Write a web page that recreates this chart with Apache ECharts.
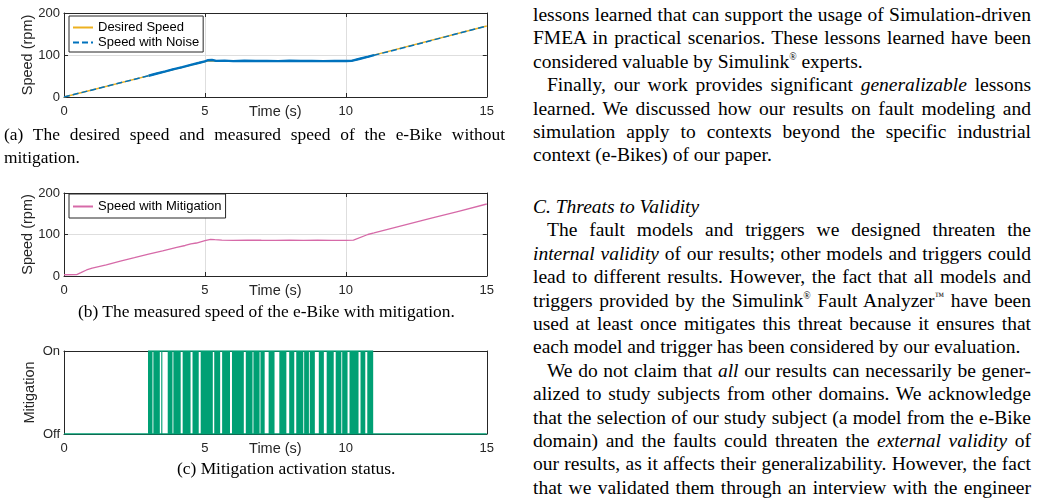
<!DOCTYPE html>
<html>
<head>
<meta charset="utf-8">
<script src="https://cdn.jsdelivr.net/npm/echarts@6/dist/echarts.min.js"></script>
<style>
html, body { margin: 0; padding: 0; background: #fff; width: 1043px; height: 503px; overflow: hidden; }
#main { position: absolute; left: 0; top: 0; width: 497px; height: 503px; }
.cap { position: absolute; font-family: 'Liberation Serif', 'Times New Roman', serif; font-size: 17.4px; line-height: 23px; height: 23px; color: #000; white-space: nowrap; }
.col { position: absolute; left: 533px; width: 498px; font-family: 'Liberation Serif', 'Times New Roman', serif; font-size: 19.5px; line-height: 23.4px; color: #000; }
.col div { height: 23.4px; text-align: justify; text-align-last: justify; }
.col div.last { text-align-last: left; }
.col div.ind { text-indent: 14px; }
sup { font-size: 0.5em; vertical-align: 0.8em; line-height: 0; }
</style>
</head>
<body>
<div id="main"></div>

<div class="cap" style="left:4px;top:123px;width:501px;text-align:justify;text-align-last:justify;">(a) The desired speed and measured speed of the e-Bike without</div>
<div class="cap" style="left:4px;top:146px;">mitigation.</div>
<div class="cap" style="left:78px;top:300px;">(b) The measured speed of the e-Bike with mitigation.</div>
<div class="cap" style="left:177px;top:457px;">(c) Mitigation activation status.</div>

<div class="col" style="top:3px;">
  <div>lessons learned that can support the usage of Simulation-driven</div>
  <div>FMEA in practical scenarios. These lessons learned have been</div>
  <div class="last">considered valuable by Simulink<sup>®</sup> experts.</div>
  <div class="ind">Finally, our work provides significant <i>generalizable</i> lessons</div>
  <div>learned. We discussed how our results on fault modeling and</div>
  <div>simulation apply to contexts beyond the specific industrial</div>
  <div class="last">context (e-Bikes) of our paper.</div>
</div>

<div class="col" style="top:195px;">
  <div class="last"><i>C. Threats to Validity</i></div>
  <div class="ind">The fault models and triggers we designed threaten the</div>
  <div><i>internal validity</i> of our results; other models and triggers could</div>
  <div>lead to different results. However, the fact that all models and</div>
  <div>triggers provided by the Simulink<sup>®</sup> Fault Analyzer<sup>™</sup> have been</div>
  <div>used at least once mitigates this threat because it ensures that</div>
  <div class="last">each model and trigger has been considered by our evaluation.</div>
  <div class="ind">We do not claim that <i>all</i> our results can necessarily be gener-</div>
  <div>alized to study subjects from other domains. We acknowledge</div>
  <div>that the selection of our study subject (a model from the e-Bike</div>
  <div>domain) and the faults could threaten the <i>external validity</i> of</div>
  <div>our results, as it affects their generalizability. However, the fact</div>
  <div>that we validated them through an interview with the engineer</div>
</div>

<script>
// data (time in s, speed in rpm)
var desiredT = [0, 5.1, 10.2, 15];
var desiredV = [0, 86, 86, 169];

var noiseT = [0, 1, 2, 3, 3.3, 3.6, 3.9, 4.2, 4.5, 4.8, 5.0, 5.1, 5.25, 5.4, 5.7, 6.0, 6.4, 6.8, 7.2, 7.6, 8.0, 8.4, 8.8, 9.2, 9.6, 10.0, 10.2, 10.5, 10.8, 11.0, 12, 13, 14, 15];
var noiseV = [0, 16.9, 33.8, 50.6, 56, 61, 66.5, 71, 76.5, 81.5, 85, 87.5, 88, 86, 86.5, 85.5, 86.2, 85.6, 86.1, 85.5, 86.2, 85.6, 86, 85.5, 86.1, 85.6, 86, 91, 96, 99.5, 116.5, 134, 151.5, 169];

var mitigatedT = [0, 0.45, 0.6, 0.8, 1.0, 1.5, 2, 2.5, 3, 3.5, 4, 4.3, 4.5, 4.7, 5, 5.2, 5.35, 5.6, 6, 6.5, 7, 7.5, 8, 8.5, 9, 9.5, 10, 10.27, 10.78, 11, 12, 13, 14, 15];
var mitigatedV = [3, 3.5, 8, 14.5, 19, 27, 36, 44, 52.5, 60.5, 69, 73.5, 77.5, 79.5, 85.5, 88.5, 87.5, 86.5, 86, 86.5, 86.2, 86, 86.3, 86, 86.2, 85.8, 86, 86.5, 100, 103.8, 121.2, 138.6, 156, 173.5];

// periods where the mitigation switches on/off (start, end)
var mitigationBands = [[2.98, 3.14], [3.17, 3.40], [3.45, 3.49], [3.68, 3.85], [3.88, 4.14], [4.21, 4.49], [4.56, 4.78], [4.85, 5.28], [5.33, 5.54], [5.61, 5.89], [5.96, 6.38], [6.45, 6.69], [6.72, 6.94], [6.97, 7.12], [7.26, 7.47], [7.64, 7.89], [7.99, 8.17], [8.24, 8.49], [8.52, 8.69], [8.72, 8.90], [9.04, 9.22], [9.32, 9.57], [9.64, 9.84], [9.87, 10.06], [10.13, 10.45], [10.52, 10.69], [10.76, 10.97]];
var mitigationActive = [2.98, 10.97];
var statusLabels = ['Off', 'On'];

var FONT = 'Liberation Sans';
var INK = '#262626';
var GRIDLINE = '#dedede';
var GREEN = '#00a074';

function pairs(t, v) {
  return t.map(function (x, i) { return [x, v[i]]; });
}

function xAxes(g, grid) {
  return [{
    gridIndex: g, type: 'value', position: 'bottom', min: 0, max: 15, interval: 5,
    axisLine: { show: true, onZero: false, lineStyle: { color: INK } },
    axisTick: { show: true, inside: true, length: 4, lineStyle: { color: INK } },
    axisLabel: { margin: 8, fontSize: 13, color: INK, fontFamily: FONT },
    splitLine: { show: grid, showMinLine: false, showMaxLine: false, lineStyle: { color: GRIDLINE } },
    name: 'Time (s)', nameLocation: 'middle', nameGap: 7, nameMoveOverlap: false,
    nameTextStyle: { fontSize: 14.5, color: INK, fontFamily: FONT, verticalAlign: 'top' }
  }, {
    gridIndex: g, type: 'value', position: 'top', min: 0, max: 15, interval: 5,
    axisLine: { show: true, onZero: false, lineStyle: { color: INK } },
    axisTick: { show: true, inside: true, length: 4, lineStyle: { color: INK } },
    axisLabel: { show: false }, splitLine: { show: false }
  }];
}

function yAxes(g, max, interval, name, gap, grid, fmt) {
  return [{
    gridIndex: g, type: 'value', position: 'left', min: 0, max: max, interval: interval,
    axisLine: { show: true, onZero: false, lineStyle: { color: INK } },
    axisTick: { show: true, inside: true, length: 4, lineStyle: { color: INK } },
    axisLabel: { margin: 4, fontSize: 13, color: INK, fontFamily: FONT, formatter: fmt },
    splitLine: { show: grid, showMinLine: false, showMaxLine: false, lineStyle: { color: GRIDLINE } },
    name: name, nameLocation: 'middle', nameGap: gap, nameMoveOverlap: false,
    nameTextStyle: { fontSize: 14.5, color: INK, fontFamily: FONT }
  }, {
    gridIndex: g, type: 'value', position: 'right', min: 0, max: max, interval: interval,
    axisLine: { show: true, onZero: false, lineStyle: { color: INK } },
    axisTick: { show: true, inside: true, length: 4, lineStyle: { color: INK } },
    axisLabel: { show: false }, splitLine: { show: false }
  }];
}

var legendBase = {
  orient: 'vertical', left: 69, itemWidth: 20, itemHeight: 14, itemGap: 2,
  borderColor: INK, borderWidth: 1, backgroundColor: '#fff', selectedMode: false,
  itemStyle: { opacity: 0 },
  textStyle: { fontSize: 13, color: '#000', fontFamily: FONT }
};

var myChart = echarts.init(document.getElementById('main'));

myChart.setOption({
  animation: false,
  grid: [
    { left: 64, top: 13, width: 428, height: 84 },
    { left: 64, top: 193, width: 428, height: 83 },
    { left: 64, top: 351, width: 428, height: 83 }
  ],
  xAxis: [].concat(xAxes(0, true), xAxes(1, true), xAxes(2, false)),
  yAxis: [].concat(
    yAxes(0, 200, 100, 'Speed (rpm)', 29, true),
    yAxes(1, 200, 100, 'Speed (rpm)', 29, true),
    yAxes(2, 1, 1, 'Mitigation', 27, false, function (v) { return statusLabels[v]; })
  ),
  legend: [
    Object.assign({}, legendBase, { top: 16, padding: [5, 4, 3, 3], data: ['Desired Speed', 'Speed with Noise'] }),
    Object.assign({}, legendBase, { top: 194, padding: [6, 4, 5, 3], data: ['Speed with Mitigation'] })
  ],
  series: [
    {
      name: 'Desired Speed', type: 'line', xAxisIndex: 0, yAxisIndex: 0,
      data: pairs(desiredT, desiredV), symbol: 'none', silent: true,
      lineStyle: { color: '#EDB120', width: 1.5 }, itemStyle: { color: '#EDB120' }
    },
    {
      name: 'Speed with Noise', type: 'line', xAxisIndex: 0, yAxisIndex: 0,
      data: pairs(noiseT, noiseV), symbol: 'none', silent: true,
      lineStyle: { color: '#0072BD', width: 1.5, type: [6, 3] }, itemStyle: { color: '#0072BD' }
    },
    {
      // noisy part looks solid and thicker
      name: 'noise band', type: 'line', xAxisIndex: 0, yAxisIndex: 0,
      data: pairs(noiseT, noiseV).filter(function (p) { return p[0] >= 3 && p[0] <= 11; }),
      symbol: 'none', silent: true,
      lineStyle: { color: '#0072BD', width: 2.4 }
    },
    {
      name: 'Speed with Mitigation', type: 'line', xAxisIndex: 2, yAxisIndex: 2,
      data: pairs(mitigatedT, mitigatedV), symbol: 'none', silent: true,
      lineStyle: { color: '#d66aa8', width: 1.3 }, itemStyle: { color: '#d66aa8' }
    },
    {
      name: 'mitigation switching', type: 'custom', xAxisIndex: 4, yAxisIndex: 4, silent: true,
      data: mitigationBands.map(function (b) { return [b[0], b[1], 1]; }),
      encode: { x: [0, 1], y: 2 },
      renderItem: function (params, api) {
        var p0 = api.coord([api.value(0), 1]);
        var p1 = api.coord([api.value(1), 0]);
        return {
          type: 'rect',
          shape: { x: p0[0], y: p0[1], width: Math.max(p1[0] - p0[0], 1), height: p1[1] - p0[1] },
          style: { fill: GREEN }
        };
      }
    },
    {
      name: 'mitigation off', type: 'line', xAxisIndex: 4, yAxisIndex: 4,
      data: [[0, 0], [15, 0]], symbol: 'none', silent: true,
      lineStyle: { color: GREEN, width: 1.5 }
    },
    {
      name: 'mitigation on', type: 'line', xAxisIndex: 4, yAxisIndex: 4,
      data: [[mitigationActive[0], 1], [mitigationActive[1], 1]], symbol: 'none', silent: true,
      lineStyle: { color: GREEN, width: 1.5 }
    }
  ]
});
</script>
</body>
</html>
